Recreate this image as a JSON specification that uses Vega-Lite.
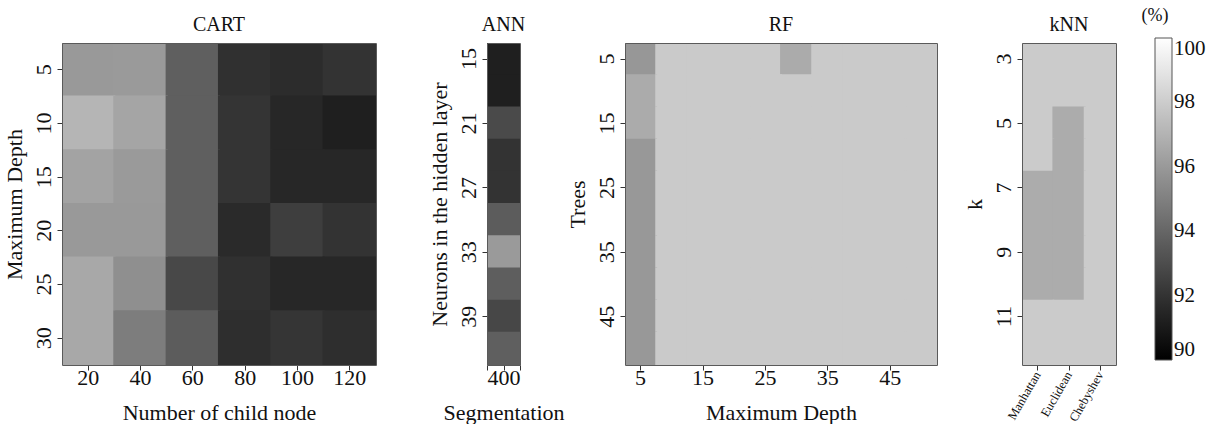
{
  "$schema": "https://vega.github.io/schema/vega-lite/v6.json",
  "padding": {"left": 2, "top": 7, "right": 0, "bottom": 0},
  "background": "white",
  "datasets": {
    "cart": [
      {"depth": 5, "nodes": 20, "acc": 96.00}, {"depth": 5, "nodes": 40, "acc": 96.04}, {"depth": 5, "nodes": 60, "acc": 93.73}, {"depth": 5, "nodes": 80, "acc": 91.88}, {"depth": 5, "nodes": 100, "acc": 91.73}, {"depth": 5, "nodes": 120, "acc": 92.00},
      {"depth": 10, "nodes": 20, "acc": 97.10}, {"depth": 10, "nodes": 40, "acc": 96.47}, {"depth": 10, "nodes": 60, "acc": 93.73}, {"depth": 10, "nodes": 80, "acc": 92.04}, {"depth": 10, "nodes": 100, "acc": 91.53}, {"depth": 10, "nodes": 120, "acc": 91.22},
      {"depth": 15, "nodes": 20, "acc": 96.39}, {"depth": 15, "nodes": 40, "acc": 96.04}, {"depth": 15, "nodes": 60, "acc": 93.73}, {"depth": 15, "nodes": 80, "acc": 92.04}, {"depth": 15, "nodes": 100, "acc": 91.53}, {"depth": 15, "nodes": 120, "acc": 91.53},
      {"depth": 20, "nodes": 20, "acc": 96.00}, {"depth": 20, "nodes": 40, "acc": 96.00}, {"depth": 20, "nodes": 60, "acc": 93.73}, {"depth": 20, "nodes": 80, "acc": 91.65}, {"depth": 20, "nodes": 100, "acc": 92.43}, {"depth": 20, "nodes": 120, "acc": 92.00},
      {"depth": 25, "nodes": 20, "acc": 96.59}, {"depth": 25, "nodes": 40, "acc": 95.61}, {"depth": 25, "nodes": 60, "acc": 92.82}, {"depth": 25, "nodes": 80, "acc": 91.88}, {"depth": 25, "nodes": 100, "acc": 91.53}, {"depth": 25, "nodes": 120, "acc": 91.53},
      {"depth": 30, "nodes": 20, "acc": 96.59}, {"depth": 30, "nodes": 40, "acc": 94.90}, {"depth": 30, "nodes": 60, "acc": 93.61}, {"depth": 30, "nodes": 80, "acc": 91.80}, {"depth": 30, "nodes": 100, "acc": 92.08}, {"depth": 30, "nodes": 120, "acc": 91.80}
    ],
    "ann": [
      {"seg": 400, "neurons": 15, "acc": 91.22}, {"seg": 400, "neurons": 18, "acc": 91.22}, {"seg": 400, "neurons": 21, "acc": 92.90}, {"seg": 400, "neurons": 24, "acc": 92.00}, {"seg": 400, "neurons": 27, "acc": 92.00},
      {"seg": 400, "neurons": 30, "acc": 93.61}, {"seg": 400, "neurons": 33, "acc": 96.04}, {"seg": 400, "neurons": 36, "acc": 93.69}, {"seg": 400, "neurons": 39, "acc": 92.78}, {"seg": 400, "neurons": 42, "acc": 93.73}
    ],
    "rf": [
      {"trees": 5, "depth": 5, "acc": 95.92}, {"trees": 5, "depth": 10, "acc": 97.92}, {"trees": 5, "depth": 15, "acc": 97.92}, {"trees": 5, "depth": 20, "acc": 97.92}, {"trees": 5, "depth": 25, "acc": 97.92}, {"trees": 5, "depth": 30, "acc": 96.71}, {"trees": 5, "depth": 35, "acc": 97.92}, {"trees": 5, "depth": 40, "acc": 97.92}, {"trees": 5, "depth": 45, "acc": 97.92}, {"trees": 5, "depth": 50, "acc": 97.92},
      {"trees": 10, "depth": 5, "acc": 96.71}, {"trees": 10, "depth": 10, "acc": 97.92}, {"trees": 10, "depth": 15, "acc": 97.92}, {"trees": 10, "depth": 20, "acc": 97.92}, {"trees": 10, "depth": 25, "acc": 97.92}, {"trees": 10, "depth": 30, "acc": 97.92}, {"trees": 10, "depth": 35, "acc": 97.92}, {"trees": 10, "depth": 40, "acc": 97.92}, {"trees": 10, "depth": 45, "acc": 97.92}, {"trees": 10, "depth": 50, "acc": 97.92},
      {"trees": 15, "depth": 5, "acc": 96.71}, {"trees": 15, "depth": 10, "acc": 97.92}, {"trees": 15, "depth": 15, "acc": 97.92}, {"trees": 15, "depth": 20, "acc": 97.92}, {"trees": 15, "depth": 25, "acc": 97.92}, {"trees": 15, "depth": 30, "acc": 97.92}, {"trees": 15, "depth": 35, "acc": 97.92}, {"trees": 15, "depth": 40, "acc": 97.92}, {"trees": 15, "depth": 45, "acc": 97.92}, {"trees": 15, "depth": 50, "acc": 97.92},
      {"trees": 20, "depth": 5, "acc": 95.96}, {"trees": 20, "depth": 10, "acc": 97.92}, {"trees": 20, "depth": 15, "acc": 97.92}, {"trees": 20, "depth": 20, "acc": 97.92}, {"trees": 20, "depth": 25, "acc": 97.92}, {"trees": 20, "depth": 30, "acc": 97.92}, {"trees": 20, "depth": 35, "acc": 97.92}, {"trees": 20, "depth": 40, "acc": 97.92}, {"trees": 20, "depth": 45, "acc": 97.92}, {"trees": 20, "depth": 50, "acc": 97.92},
      {"trees": 25, "depth": 5, "acc": 95.96}, {"trees": 25, "depth": 10, "acc": 97.92}, {"trees": 25, "depth": 15, "acc": 97.92}, {"trees": 25, "depth": 20, "acc": 97.92}, {"trees": 25, "depth": 25, "acc": 97.92}, {"trees": 25, "depth": 30, "acc": 97.92}, {"trees": 25, "depth": 35, "acc": 97.92}, {"trees": 25, "depth": 40, "acc": 97.92}, {"trees": 25, "depth": 45, "acc": 97.92}, {"trees": 25, "depth": 50, "acc": 97.92},
      {"trees": 30, "depth": 5, "acc": 95.96}, {"trees": 30, "depth": 10, "acc": 97.92}, {"trees": 30, "depth": 15, "acc": 97.92}, {"trees": 30, "depth": 20, "acc": 97.92}, {"trees": 30, "depth": 25, "acc": 97.92}, {"trees": 30, "depth": 30, "acc": 97.92}, {"trees": 30, "depth": 35, "acc": 97.92}, {"trees": 30, "depth": 40, "acc": 97.92}, {"trees": 30, "depth": 45, "acc": 97.92}, {"trees": 30, "depth": 50, "acc": 97.92},
      {"trees": 35, "depth": 5, "acc": 95.96}, {"trees": 35, "depth": 10, "acc": 97.92}, {"trees": 35, "depth": 15, "acc": 97.92}, {"trees": 35, "depth": 20, "acc": 97.92}, {"trees": 35, "depth": 25, "acc": 97.92}, {"trees": 35, "depth": 30, "acc": 97.92}, {"trees": 35, "depth": 35, "acc": 97.92}, {"trees": 35, "depth": 40, "acc": 97.92}, {"trees": 35, "depth": 45, "acc": 97.92}, {"trees": 35, "depth": 50, "acc": 97.92},
      {"trees": 40, "depth": 5, "acc": 95.96}, {"trees": 40, "depth": 10, "acc": 97.92}, {"trees": 40, "depth": 15, "acc": 97.92}, {"trees": 40, "depth": 20, "acc": 97.92}, {"trees": 40, "depth": 25, "acc": 97.92}, {"trees": 40, "depth": 30, "acc": 97.92}, {"trees": 40, "depth": 35, "acc": 97.92}, {"trees": 40, "depth": 40, "acc": 97.92}, {"trees": 40, "depth": 45, "acc": 97.92}, {"trees": 40, "depth": 50, "acc": 97.92},
      {"trees": 45, "depth": 5, "acc": 95.96}, {"trees": 45, "depth": 10, "acc": 97.92}, {"trees": 45, "depth": 15, "acc": 97.92}, {"trees": 45, "depth": 20, "acc": 97.92}, {"trees": 45, "depth": 25, "acc": 97.92}, {"trees": 45, "depth": 30, "acc": 97.92}, {"trees": 45, "depth": 35, "acc": 97.92}, {"trees": 45, "depth": 40, "acc": 97.92}, {"trees": 45, "depth": 45, "acc": 97.92}, {"trees": 45, "depth": 50, "acc": 97.92},
      {"trees": 50, "depth": 5, "acc": 95.96}, {"trees": 50, "depth": 10, "acc": 97.92}, {"trees": 50, "depth": 15, "acc": 97.92}, {"trees": 50, "depth": 20, "acc": 97.92}, {"trees": 50, "depth": 25, "acc": 97.92}, {"trees": 50, "depth": 30, "acc": 97.92}, {"trees": 50, "depth": 35, "acc": 97.92}, {"trees": 50, "depth": 40, "acc": 97.92}, {"trees": 50, "depth": 45, "acc": 97.92}, {"trees": 50, "depth": 50, "acc": 97.92}
    ],
    "knn": [
      {"k": 3, "metric": "Manhattan", "acc": 97.96}, {"k": 3, "metric": "Euclidean", "acc": 97.96}, {"k": 3, "metric": "Chebyshev", "acc": 97.96},
      {"k": 4, "metric": "Manhattan", "acc": 97.96}, {"k": 4, "metric": "Euclidean", "acc": 97.96}, {"k": 4, "metric": "Chebyshev", "acc": 97.96},
      {"k": 5, "metric": "Manhattan", "acc": 97.96}, {"k": 5, "metric": "Euclidean", "acc": 96.75}, {"k": 5, "metric": "Chebyshev", "acc": 97.96},
      {"k": 6, "metric": "Manhattan", "acc": 97.96}, {"k": 6, "metric": "Euclidean", "acc": 96.75}, {"k": 6, "metric": "Chebyshev", "acc": 97.96},
      {"k": 7, "metric": "Manhattan", "acc": 96.75}, {"k": 7, "metric": "Euclidean", "acc": 96.75}, {"k": 7, "metric": "Chebyshev", "acc": 97.96},
      {"k": 8, "metric": "Manhattan", "acc": 96.75}, {"k": 8, "metric": "Euclidean", "acc": 96.75}, {"k": 8, "metric": "Chebyshev", "acc": 97.96},
      {"k": 9, "metric": "Manhattan", "acc": 96.75}, {"k": 9, "metric": "Euclidean", "acc": 96.75}, {"k": 9, "metric": "Chebyshev", "acc": 97.96},
      {"k": 10, "metric": "Manhattan", "acc": 96.75}, {"k": 10, "metric": "Euclidean", "acc": 96.75}, {"k": 10, "metric": "Chebyshev", "acc": 97.96},
      {"k": 11, "metric": "Manhattan", "acc": 97.96}, {"k": 11, "metric": "Euclidean", "acc": 97.96}, {"k": 11, "metric": "Chebyshev", "acc": 97.96},
      {"k": 12, "metric": "Manhattan", "acc": 97.96}, {"k": 12, "metric": "Euclidean", "acc": 97.96}, {"k": 12, "metric": "Chebyshev", "acc": 97.96}
    ]
  },
  "config": {
    "font": "Liberation Serif",
    "view": {"stroke": "#5a5a5a", "strokeWidth": 1},
    "style": {"cell": {"strokeForeground": true}},
    "axis": {
      "labelFont": "Liberation Serif", "titleFont": "Liberation Serif",
      "labelFontSize": 22, "titleFontSize": 22, "titleFontWeight": "normal",
      "labelColor": "#111111", "titleColor": "#111111",
      "domain": false, "grid": false, "tickColor": "#333333", "tickSize": 5
    },
    "axisX": {"labelPadding": -3, "titlePadding": 14},
    "axisY": {"labelAngle": -90, "labelPadding": 2, "titlePadding": 6},
    "title": {"font": "Liberation Serif", "fontSize": 20, "fontWeight": "normal", "color": "#111111", "offset": 8},
    "legend": {
      "gradientLength": 322, "gradientThickness": 17, "direction": "vertical",
      "gradientStrokeColor": "#555555", "gradientStrokeWidth": 1,
      "labelFont": "Liberation Serif", "labelFontSize": 21, "labelColor": "#111111", "labelOffset": 6,
      "labelBaseline": "middle", "labelOverlap": false,
      "titleFont": "Liberation Serif", "titleFontSize": 18, "titleFontWeight": "normal", "titleColor": "#111111",
      "titleAnchor": "start", "titleAlign": "center", "titlePadding": 13
    }
  },
  "resolve": {"scale": {"color": "shared"}, "legend": {"color": "shared"}},
  "spacing": 0,
  "hconcat": [
    {
      "spacing": 50,
      "resolve": {"scale": {"color": "shared"}, "legend": {"color": "shared"}},
      "hconcat": [
        {
          "title": "CART",
          "data": {"name": "cart"},
          "width": 314, "height": 322,
          "mark": {"type": "rect", "clip": true, "width": {"band": 1.04}, "height": {"band": 1.04}},
          "encoding": {
            "x": {"field": "nodes", "type": "ordinal", "title": "Number of child node", "scale": {"paddingInner": 0, "paddingOuter": 0}, "axis": {"labelAngle": 0}},
            "y": {"field": "depth", "type": "ordinal", "title": "Maximum Depth", "scale": {"paddingInner": 0, "paddingOuter": 0}},
            "color": {"field": "acc", "type": "quantitative", "scale": {"domain": [90, 100], "range": ["#000000", "#ffffff"], "interpolate": "rgb"}, "legend": {"type": "gradient", "title": "(%)", "values": [90, 92, 94, 96, 98, 100], "orient": "none", "direction": "vertical", "legendX": 1080, "legendY": -36}}
          }
        },
        {
          "title": "ANN",
          "data": {"name": "ann"},
          "width": 33, "height": 322,
          "mark": {"type": "rect", "clip": true, "width": 33, "height": {"band": 1.06}},
          "encoding": {
            "x": {"field": "seg", "type": "quantitative", "title": "Segmentation", "scale": {"domain": [399.5, 400.5], "nice": false, "zero": false}, "axis": {"values": [399.5, 400, 400.5], "labelExpr": "datum.value == 400 ? '400' : ''", "labelAngle": 0}},
            "y": {"field": "neurons", "type": "ordinal", "title": "Neurons in the hidden layer", "scale": {"paddingInner": 0, "paddingOuter": 0}, "axis": {"values": [15, 21, 27, 33, 39]}},
            "color": {"field": "acc", "type": "quantitative", "scale": {"domain": [90, 100], "range": ["#000000", "#ffffff"], "interpolate": "rgb"}, "legend": {"type": "gradient", "title": "(%)", "values": [90, 92, 94, 96, 98, 100], "orient": "none", "direction": "vertical", "legendX": 1080, "legendY": -36}}
          }
        }
      ]
    },
    {
      "spacing": 24,
      "resolve": {"scale": {"color": "shared"}, "legend": {"color": "shared"}},
      "hconcat": [
        {
          "title": "RF",
          "data": {"name": "rf"},
          "width": 312, "height": 322,
          "mark": {"type": "rect", "clip": true, "width": {"band": 1.06}, "height": {"band": 1.06}},
          "encoding": {
            "x": {"field": "depth", "type": "ordinal", "title": "Maximum Depth", "scale": {"paddingInner": 0, "paddingOuter": 0}, "axis": {"values": [5, 15, 25, 35, 45], "labelAngle": 0}},
            "y": {"field": "trees", "type": "ordinal", "title": "Trees", "scale": {"paddingInner": 0, "paddingOuter": 0}, "axis": {"values": [5, 15, 25, 35, 45]}},
            "color": {"field": "acc", "type": "quantitative", "scale": {"domain": [90, 100], "range": ["#000000", "#ffffff"], "interpolate": "rgb"}, "legend": {"type": "gradient", "title": "(%)", "values": [90, 92, 94, 96, 98, 100], "orient": "none", "direction": "vertical", "legendX": 1080, "legendY": -36}}
          }
        },
        {
          "title": "kNN",
          "data": {"name": "knn"},
          "width": 94, "height": 322,
          "mark": {"type": "rect", "clip": true, "width": {"band": 1.06}, "height": {"band": 1.06}},
          "encoding": {
            "x": {"field": "metric", "type": "nominal", "title": null, "sort": ["Manhattan", "Euclidean", "Chebyshev"], "scale": {"paddingInner": 0, "paddingOuter": 0}, "axis": {"labelAngle": -60, "labelFontSize": 12.5, "labelPadding": 2}},
            "y": {"field": "k", "type": "ordinal", "title": "k", "scale": {"paddingInner": 0, "paddingOuter": 0}, "axis": {"values": [3, 5, 7, 9, 11]}},
            "color": {"field": "acc", "type": "quantitative", "scale": {"domain": [90, 100], "range": ["#000000", "#ffffff"], "interpolate": "rgb"}, "legend": {"type": "gradient", "title": "(%)", "values": [90, 92, 94, 96, 98, 100], "orient": "none", "direction": "vertical", "legendX": 1080, "legendY": -36}}
          }
        }
      ]
    }
  ]
}
